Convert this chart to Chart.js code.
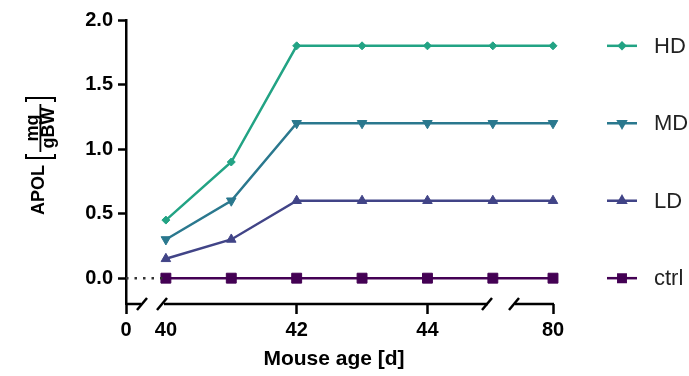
<!DOCTYPE html>
<html>
<head>
<meta charset="utf-8">
<script src="https://cdn.jsdelivr.net/npm/chart.js@4.4.1/dist/chart.umd.min.js"></script>
<style>
    html, body { margin: 0; padding: 0; background: #fff; }
    #wrap { width: 689px; height: 376px; position: relative; }
</style>
</head>
<body>
<div id="wrap"><canvas id="apolChart"></canvas></div>
<script>
// Data
const ages = [40, 41, 42, 43, 44, 45, 80];
const hdValues = [0.45, 0.9, 1.8, 1.8, 1.8, 1.8, 1.8];
const mdValues = [0.3, 0.6, 1.2, 1.2, 1.2, 1.2, 1.2];
const ldValues = [0.15, 0.3, 0.6, 0.6, 0.6, 0.6, 0.6];
const ctrlValues = [0, 0, 0, 0, 0, 0, 0];
const gapAges = [0, 40];
const gapValues = [0, 0];
const xTickAges = [0, 40, 42, 44, 80];
const xTickLabels = ['0', '40', '42', '44', '80'];
const yTickValues = [0, 0.5, 1.0, 1.5, 2.0];

const FONT = "'Liberation Sans', Arial, sans-serif";

// Broken axis: 0 and 80 are squeezed next to the 40..45 block
function axisPos(age) {
    if (age <= 0) return 39.39;
    if (age >= 80) return 45.92;
    return age;
}

function toPoints(xs, ys) {
    return xs.map((a, i) => ({ x: axisPos(a), y: ys[i] }));
}

function series(label, values, color, style, radius, rotation) {
    return {
        label: label,
        data: toPoints(ages, values),
        borderColor: color,
        backgroundColor: color,
        borderWidth: 2.5,
        pointStyle: style,
        pointRadius: radius,
        pointRotation: rotation || 0,
        pointBorderWidth: 1,
        pointBorderColor: color,
        pointBackgroundColor: color,
        clip: false,
        tension: 0
    };
}

// Y title with a stacked fraction and tall brackets
// (drawn rotated: text x runs up the page, so tx = -screenY)
const yTitlePlugin = {
    id: 'yTitle',
    afterDraw(chart) {
        const ctx = chart.ctx;
        ctx.save();
        ctx.translate(39, 0);
        ctx.rotate(-Math.PI / 2);
        ctx.fillStyle = '#000';
        ctx.strokeStyle = '#000';
        ctx.textBaseline = 'middle';

        ctx.font = 'bold 18px ' + FONT;
        ctx.textAlign = 'left';
        ctx.fillText('APOL', -215, 0.5);

        // brackets
        ctx.lineWidth = 2;
        ctx.beginPath();
        ctx.moveTo(-154, -13);
        ctx.lineTo(-158, -13);
        ctx.lineTo(-158, 16);
        ctx.lineTo(-154, 16);
        ctx.stroke();
        ctx.beginPath();
        ctx.moveTo(-102, -13);
        ctx.lineTo(-98, -13);
        ctx.lineTo(-98, 16);
        ctx.lineTo(-102, 16);
        ctx.stroke();

        // fraction mg / gBW
        ctx.font = 'bold 18px ' + FONT;
        ctx.textAlign = 'center';
        ctx.fillText('mg', -128, -6);
        ctx.fillText('gBW', -128, 10);
        ctx.fillRect(-152, 0.5, 48, 1.8);
        ctx.restore();
    }
};

// X title placed by hand
const xTitlePlugin = {
    id: 'xTitle',
    afterDraw(chart) {
        const ctx = chart.ctx;
        ctx.save();
        ctx.fillStyle = '#000';
        ctx.font = 'bold 21px ' + FONT;
        ctx.textAlign = 'center';
        ctx.textBaseline = 'middle';
        ctx.fillText('Mouse age [d]', 334, 359);
        ctx.restore();
    }
};

// X axis line with break marks
const brokenAxisPlugin = {
    id: 'brokenAxis',
    afterDraw(chart) {
        const ctx = chart.ctx;
        const y = chart.chartArea.bottom;
        const left = chart.chartArea.left;
        const right = chart.chartArea.right;
        const segs = [[left, 141], [164, 488], [515, right + 1]];
        const slashes = [142, 162, 487, 514];
        ctx.save();
        ctx.strokeStyle = '#000';
        ctx.lineWidth = 2.5;
        ctx.lineCap = 'butt';
        segs.forEach(s => {
            ctx.beginPath();
            ctx.moveTo(s[0], y);
            ctx.lineTo(s[1], y);
            ctx.stroke();
        });
        slashes.forEach(sx => {
            ctx.beginPath();
            ctx.moveTo(sx - 5, y + 6);
            ctx.lineTo(sx + 5, y - 6);
            ctx.stroke();
        });
        ctx.restore();
    }
};

// Labels on the right, level with each series' last value
const sideLegendPlugin = {
    id: 'sideLegend',
    afterDraw(chart) {
        const ctx = chart.ctx;
        const yScale = chart.scales.y;
        ctx.save();
        chart.data.datasets.forEach(ds => {
            if (ds.hideLegend) return;
            const last = ds.data[ds.data.length - 1].y;
            const y = yScale.getPixelForValue(last);
            ctx.strokeStyle = ds.borderColor;
            ctx.lineWidth = 2.5;
            ctx.beginPath();
            ctx.moveTo(607, y);
            ctx.lineTo(637, y);
            ctx.stroke();
            ctx.fillStyle = ds.borderColor;
            Chart.helpers.drawPoint(ctx, {
                pointStyle: ds.pointStyle,
                rotation: ds.pointRotation,
                radius: ds.pointRadius * 0.75,
                borderWidth: 1
            }, 622, y);
            ctx.fillStyle = '#222';
            ctx.font = '22px ' + FONT;
            ctx.textAlign = 'left';
            ctx.textBaseline = 'middle';
            ctx.fillText(ds.label, 654, y + 1);
        });
        ctx.restore();
    }
};

const gapLine = {
    label: 'gap',
    hideLegend: true,
    data: toPoints(gapAges, gapValues),
    borderColor: '#333',
    borderWidth: 2.5,
    borderDash: [2.5, 6],
    borderDashOffset: 0,
    pointRadius: 0,
    clip: false
};

new Chart(document.getElementById('apolChart').getContext('2d'), {
    type: 'line',
    data: {
        datasets: [
            gapLine,
            series('HD', hdValues, '#22a384', 'rectRot', 4),
            series('MD', mdValues, '#2a788e', 'triangle', 5.5, 180),
            series('LD', ldValues, '#414487', 'triangle', 5.5),
            series('ctrl', ctrlValues, '#440154', 'rect', 7)
        ]
    },
    options: {
        responsive: true,
        maintainAspectRatio: false,
        animation: false,
        layout: { padding: { left: 0, top: 20, right: 136, bottom: 0 } },
        plugins: {
            legend: { display: false },
            tooltip: { enabled: false }
        },
        scales: {
            x: {
                type: 'linear',
                min: axisPos(0),
                max: axisPos(80),
                afterFit(scale) { scale.height = 72; },
                afterBuildTicks(scale) {
                    scale.ticks = xTickAges.map(a => ({ value: axisPos(a) }));
                },
                border: { display: false },
                grid: {
                    drawOnChartArea: false,
                    drawTicks: true,
                    tickLength: 10,
                    tickWidth: 2.5,
                    color: c => (c.tick && c.tick.value === axisPos(40)) ? 'rgba(0,0,0,0)' : '#000'
                },
                ticks: {
                    autoSkip: false,
                    maxRotation: 0,
                    padding: 4,
                    color: '#000',
                    font: { family: FONT, size: 20, weight: 'bold' },
                    callback: (v, i) => xTickLabels[i]
                }
            },
            y: {
                min: -0.2,
                max: 2.0,
                afterFit(scale) { scale.width = 126; },
                afterBuildTicks(scale) {
                    scale.ticks = yTickValues.map(v => ({ value: v }));
                },
                border: { display: true, color: '#000', width: 2.5 },
                grid: {
                    drawOnChartArea: false,
                    drawTicks: true,
                    tickLength: 8,
                    tickWidth: 2.5,
                    color: '#000'
                },
                ticks: {
                    padding: 5,
                    color: '#000',
                    font: { family: FONT, size: 20, weight: 'bold' },
                    callback: v => v.toFixed(1)
                }
            }
        }
    },
    plugins: [yTitlePlugin, xTitlePlugin, brokenAxisPlugin, sideLegendPlugin]
});
</script>
</body>
</html>
